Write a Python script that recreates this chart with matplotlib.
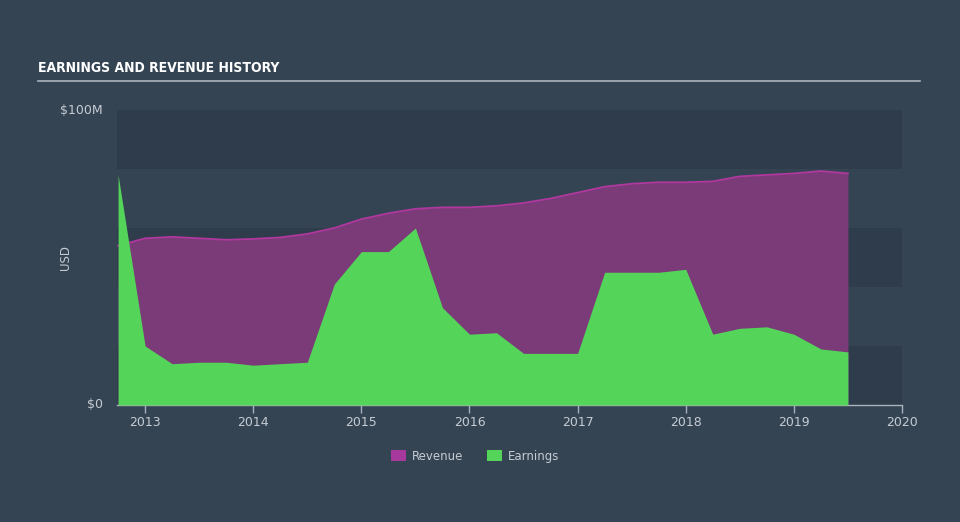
import numpy as np
import matplotlib
matplotlib.use('Agg')
import matplotlib.pyplot as plt
from matplotlib.patches import Patch

# quarterly history, values in $M
dates = [2012.75, 2013.0, 2013.25, 2013.5, 2013.75, 2014.0, 2014.25, 2014.5,
         2014.75, 2015.0, 2015.25, 2015.5, 2015.75, 2016.0, 2016.25, 2016.5,
         2016.75, 2017.0, 2017.25, 2017.5, 2017.75, 2018.0, 2018.25, 2018.5,
         2018.75, 2019.0, 2019.25, 2019.5]
revenue = [54, 56.5, 57, 56.5, 56, 56.3, 56.8, 58,
           60, 63, 65, 66.5, 67, 67, 67.5, 68.5,
           70, 72, 74, 75, 75.5, 75.5, 75.8, 77.5,
           78, 78.5, 79.3, 78.5]
earnings = [78, 20, 14, 14.5, 14.5, 13.5, 14, 14.5,
            41, 52, 52, 60, 33, 24, 24.5, 17.5,
            17.5, 17.5, 45, 45, 45, 46, 24, 26,
            26.5, 24, 19, 18]
year_ticks = [2013, 2014, 2015, 2016, 2017, 2018, 2019, 2020]

bg = '#354453'
band = '#2f3c4b'
rev_fill = '#7b3a78'
rev_line = '#b0389f'
earn_col = '#54d55a'
txt = '#c5ccd3'

fig = plt.figure(figsize=(9.6, 5.22), dpi=100, facecolor=bg)
ax = fig.add_axes([117/960, 1-405/522, 785/960, 295/522])
ax.set_facecolor(bg)

# horizontal bands
for lo in (0, 40, 80):
    ax.axhspan(lo, lo + 20, color=band, lw=0, zorder=0)

ax.fill_between(dates, revenue, color=rev_fill, lw=0, zorder=1)
ax.plot(dates, revenue, color=rev_line, lw=1.3, zorder=2)
ax.fill_between(dates, earnings, color=earn_col, lw=0, zorder=3)

ax.set_xlim(2012.74, 2020.0)
ax.set_ylim(0, 100)

for s in ('top', 'right', 'left'):
    ax.spines[s].set_visible(False)
ax.spines['bottom'].set_color('#a9b3bd')
ax.spines['bottom'].set_linewidth(1)

ax.set_xticks(year_ticks)
ax.set_xticklabels([str(y) for y in year_ticks])
ax.tick_params(axis='x', colors='#a9b3bd', labelcolor=txt, length=6, width=1,
               labelsize=9, pad=2)
ax.set_yticks([0, 100])
ax.set_yticklabels(['$0', '$100M'])
ax.tick_params(axis='y', length=0, labelcolor=txt, labelsize=9, pad=10)
for lbl in ax.get_yticklabels():
    lbl.set_verticalalignment('center')

fig.text(65/960, 1-258/522, 'USD', color=txt, fontsize=8.5, rotation=90,
         ha='center', va='center')

# title and rule
fig.text(38/960, 1-68/522, 'EARNINGS AND REVENUE HISTORY', color='white',
         fontsize=10, fontweight='bold', fontstretch='condensed',
         va='center', ha='left', family=['DejaVu Sans'])
fig.add_artist(plt.Line2D([38/960, 920/960], [1-81/522, 1-81/522],
                          color='#a9b3bd', lw=1.2))

handles = [Patch(facecolor='#a8399c', label='Revenue'),
           Patch(facecolor=earn_col, label='Earnings')]
leg = fig.legend(handles=handles, loc='center', bbox_to_anchor=(475/960, 1-456/522),
                 ncol=2, frameon=False, fontsize=8.5, handlelength=1.3,
                 handleheight=1.0, columnspacing=2.0, handletextpad=0.5)
for t in leg.get_texts():
    t.set_color(txt)

fig.savefig('out.png', dpi=100, facecolor=bg)
